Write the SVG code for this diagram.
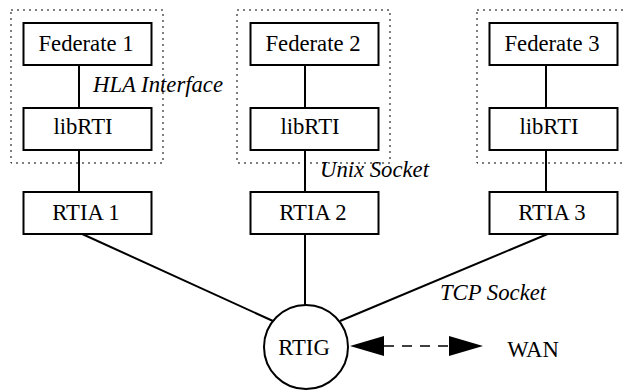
<svg xmlns="http://www.w3.org/2000/svg" width="626" height="390" viewBox="0 0 626 390">
<style>
.box{fill:#fff;stroke:#000;stroke-width:2}
.grp{fill:none;stroke:#000;stroke-width:1;stroke-dasharray:2 4}
.ln{fill:none;stroke:#000;stroke-width:2}
.t{font-family:"Liberation Serif","Times New Roman",serif;font-size:22.7px;fill:#000;text-anchor:middle}
.it{font-family:"Liberation Serif","Times New Roman",serif;font-size:22.7px;font-style:italic;fill:#000}
</style>
<defs>
<marker id="ah" viewBox="0 0 34 20" refX="34" refY="10" markerWidth="34" markerHeight="20" markerUnits="userSpaceOnUse" orient="auto-start-reverse">
<path d="M0,0 L34,10 L0,20 Z" fill="#000"/>
</marker>
</defs>
<rect fill="#fff" width="626" height="390"/>
<g id="groups">
<rect class="grp" x="11" y="10" width="152" height="153"/>
<rect class="grp" x="237" y="10" width="153" height="153"/>
<rect class="grp" x="477" y="10" width="170" height="153"/>
</g>
<g id="connectors">
<line class="ln" x1="79" y1="65" x2="79" y2="108"/>
<line class="ln" x1="79" y1="150" x2="79" y2="192"/>
<line class="ln" x1="305" y1="65" x2="305" y2="108"/>
<line class="ln" x1="305" y1="150" x2="305" y2="192"/>
<line class="ln" x1="546" y1="65" x2="546" y2="108"/>
<line class="ln" x1="546" y1="150" x2="546" y2="192"/>
<line class="ln" x1="305" y1="234" x2="305" y2="305"/>
<line class="ln" x1="80" y1="233" x2="273" y2="321"/>
<line class="ln" x1="550" y1="233" x2="340" y2="321"/>
<line fill="none" stroke="#000" stroke-width="1.3" stroke-dasharray="10 8" x1="384" y1="346" x2="449" y2="346"/>
<line stroke="none" x1="384" y1="346" x2="350" y2="346" marker-end="url(#ah)"/>
<line stroke="none" x1="449" y1="346" x2="483" y2="346" marker-end="url(#ah)"/>
</g>
<g id="fed1"><rect class="box" x="23.5" y="23" width="128" height="42"/><text class="t" x="86" y="51">Federate 1</text></g>
<g id="lib1"><rect class="box" x="23.5" y="108" width="128" height="42"/><text class="t" x="83" y="134">libRTI</text></g>
<g id="rtia1"><rect class="box" x="23.5" y="192" width="128" height="42"/><text class="t" x="86" y="220">RTIA 1</text></g>
<g id="fed2"><rect class="box" x="250.5" y="23" width="128" height="42"/><text class="t" x="313" y="51">Federate 2</text></g>
<g id="lib2"><rect class="box" x="250.5" y="108" width="128" height="42"/><text class="t" x="310" y="134">libRTI</text></g>
<g id="rtia2"><rect class="box" x="250.5" y="192" width="128" height="42"/><text class="t" x="313" y="220">RTIA 2</text></g>
<g id="fed3"><rect class="box" x="489.5" y="23" width="128" height="42"/><text class="t" x="552" y="51">Federate 3</text></g>
<g id="lib3"><rect class="box" x="489.5" y="108" width="128" height="42"/><text class="t" x="549" y="134">libRTI</text></g>
<g id="rtia3"><rect class="box" x="489.5" y="192" width="128" height="42"/><text class="t" x="552" y="220">RTIA 3</text></g>
<g id="rtig"><circle class="box" cx="306" cy="347" r="42"/><text class="t" x="304" y="355">RTIG</text></g>
<g id="wan"><text class="t" x="533" y="357">WAN</text></g>
<g id="labels">
<text class="it" x="93" y="92">HLA Interface</text>
<text class="it" x="320" y="177">Unix Socket</text>
<text class="it" x="440" y="300">TCP Socket</text>
</g>
</svg>
